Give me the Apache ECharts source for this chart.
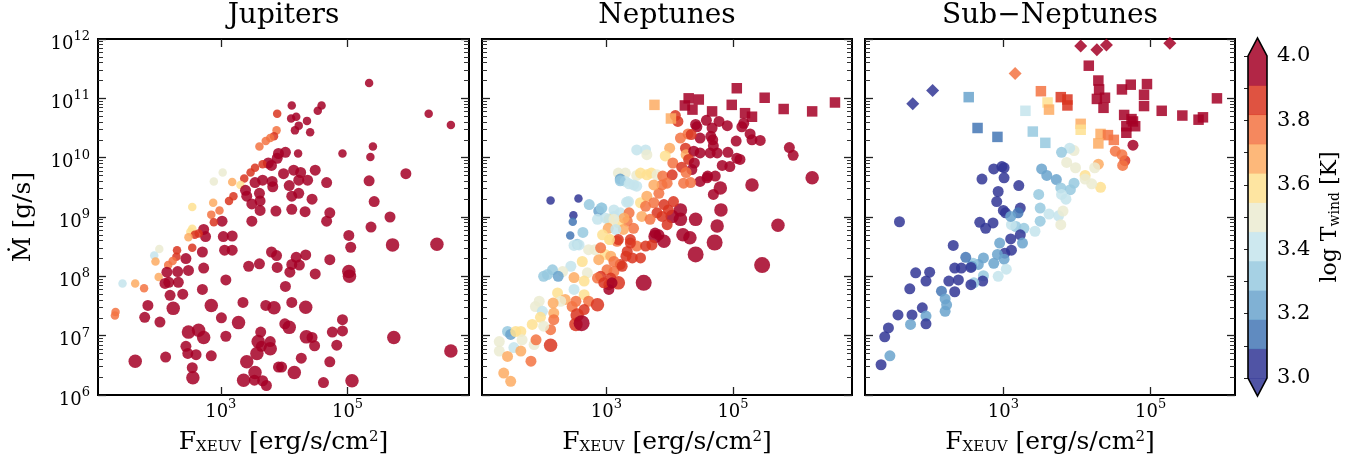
<!DOCTYPE html>
<html><head><meta charset="utf-8">
<script src="https://cdn.jsdelivr.net/npm/echarts@6/dist/echarts.min.js"></script>
<style>html,body{margin:0;padding:0;background:#fff}#c{width:1362px;height:462px}</style>
</head><body><div id="c"></div>
<script>
// ---------- labels / ticks ----------
const panelTitles = ['Jupiters', 'Neptunes', 'Sub\u2212Neptunes'];
const xTickExps = [3, 5];
const yTickExps = [6, 7, 8, 9, 10, 11, 12];
const xRangeLog = [[1.063, 6.916], [1.037, 6.879], [1.122, 6.145]];
const yRangeLog = [6, 12];
const tempMin = 3.0, tempMax = 4.0, tempBins = 11;
const cbTickStep = 0.1;
const palette = ['#313695','#4477b5','#6aa3cd','#96c9df','#c4e4ec','#ebebd1','#fee090','#fdab63','#f37342','#d93520','#a50026'];

// ---------- data: [log F_XEUV, log Mdot, log T_wind, size class] ----------
const jupiters = [
[5.34,11.26,3.95,1],[4.12,10.88,3.95,1],[4.59,10.88,3.95,1],[4.53,10.79,3.95,1],[4.11,10.66,3.95,1],
[4.19,10.69,3.95,1],[4.36,10.62,3.95,1],[4.23,10.54,3.95,1],[4.17,10.46,3.95,1],[4.41,10.43,3.95,1],
[3.89,10.74,3.86,1],[3.88,10.46,3.77,1],[3.84,10.36,3.86,1],[3.78,10.33,3.77,1],[3.71,10.28,3.77,1],
[3.61,10.19,3.77,1],[6.28,10.74,3.95,1],[6.63,10.55,3.95,1],[5.40,10.19,3.95,1],[5.36,10.01,3.95,1],
[4.92,10.07,3.95,1],[4.22,10.07,3.95,1],[4.02,10.09,3.95,2],[3.91,10.07,3.95,2],[3.89,9.99,3.95,2],
[3.75,9.91,3.95,2],[3.66,9.89,3.86,1],[3.80,9.87,3.95,2],[3.54,9.83,3.86,1],[3.47,9.75,3.86,1],
[3.37,9.65,3.86,1],[3.18,9.59,3.68,1],[3.31,9.54,3.59,1],[3.03,9.75,3.50,1],[2.89,9.60,3.50,1],
[4.15,9.79,3.95,2],[3.99,9.73,3.95,2],[4.26,9.75,3.95,2],[4.49,9.79,3.95,2],[3.66,9.62,3.95,2],
[3.54,9.58,3.95,2],[3.81,9.60,3.95,2],[3.82,9.51,3.95,2],[4.08,9.53,3.95,2],[4.23,9.62,3.95,2],
[4.37,9.62,3.95,2],[4.67,9.58,3.95,2],[3.39,9.45,3.95,2],[3.41,9.35,3.95,2],[3.61,9.40,3.95,2],
[3.49,9.22,3.95,2],[3.62,9.27,3.95,2],[4.12,9.35,3.95,2],[4.23,9.40,3.95,2],[4.44,9.30,3.95,2],
[3.20,9.35,3.86,1],[3.13,9.27,3.86,1],[2.98,9.11,3.77,1],[2.88,9.24,3.68,1],[2.85,9.04,3.77,1],
[2.55,9.17,3.59,1],[5.34,9.61,3.95,2],[5.42,9.26,3.95,2],[5.67,9.00,3.95,2],[5.71,8.53,3.95,3],
[5.37,8.83,3.95,2],[4.72,9.07,3.95,2],[4.67,8.93,3.95,2],[4.33,9.09,3.95,2],[4.12,9.13,3.95,2],
[3.62,9.11,3.95,2],[3.87,9.10,3.95,2],[3.49,8.93,3.95,2],[3.02,8.93,3.95,2],[2.89,8.91,3.86,1],
[2.73,8.79,3.95,2],[2.76,8.67,3.95,2],[2.55,8.80,3.59,1],[2.52,8.75,3.59,1],[2.65,8.72,3.86,1],
[2.59,8.70,3.86,1],[2.49,8.66,3.68,1],[3.04,8.67,3.95,2],[3.18,8.68,3.95,2],[5.02,8.69,3.95,2],
[5.05,8.49,3.95,2],[6.41,8.54,3.95,3],[2.55,8.48,3.86,1],[2.71,8.41,3.95,2],[2.45,8.30,3.95,2],
[2.31,8.44,3.86,1],[2.30,8.33,3.86,1],[2.24,8.26,3.77,1],[2.03,8.46,3.50,1],[1.95,8.35,3.41,1],
[1.97,8.25,3.68,1],[2.17,8.19,3.77,1],[2.02,7.99,3.68,1],[2.15,8.07,3.95,2],[2.12,7.88,3.95,2],
[2.32,8.08,3.95,2],[2.49,8.10,3.95,2],[2.20,7.68,3.95,2],[2.40,7.70,3.95,2],[2.25,7.46,3.95,3],
[2.18,7.90,3.95,2],[2.33,7.90,3.95,2],[3.06,8.44,3.95,2],[3.18,8.44,3.95,2],[2.73,8.14,3.95,2],
[2.71,7.78,3.95,2],[3.08,7.94,3.95,2],[3.44,8.17,3.95,2],[3.61,8.21,3.95,2],[3.80,8.41,3.95,2],
[3.88,8.35,3.95,2],[3.89,8.15,3.95,2],[4.02,7.83,3.95,2],[4.12,8.20,3.95,2],[4.09,8.07,3.95,2],
[4.19,8.32,3.95,2],[4.34,8.36,3.95,2],[4.24,8.19,3.95,2],[4.49,8.04,3.95,2],[4.72,8.28,3.95,2],
[5.02,8.08,3.95,3],[5.03,8.00,3.95,3],[1.45,7.88,3.41,1],[1.65,7.88,3.68,1],[1.79,7.80,3.77,1],
[1.34,7.40,3.77,1],[1.33,7.34,3.77,1],[1.85,7.51,3.95,2],[1.80,7.31,3.95,2],[2.04,7.23,3.95,2],
[2.85,7.51,3.95,3],[3.01,7.30,3.95,2],[3.28,7.22,3.95,3],[3.35,7.56,3.95,2],[3.71,7.51,3.95,2],
[3.84,7.47,3.95,3],[4.12,7.56,3.95,2],[4.34,7.48,3.95,3],[2.49,7.06,3.95,3],[2.65,7.09,3.95,3],
[2.73,6.97,3.95,3],[2.45,6.82,3.95,2],[2.48,6.70,3.95,2],[2.61,6.68,3.95,2],[2.85,6.66,3.95,2],
[2.55,6.46,3.95,2],[2.56,6.29,3.95,3],[2.13,6.64,3.95,2],[1.65,6.57,3.95,3],[3.08,6.99,3.95,2],
[3.63,7.06,3.95,2],[3.59,6.90,3.95,3],[3.64,6.82,3.95,2],[3.78,6.78,3.95,3],[3.78,6.90,3.95,2],
[3.57,6.70,3.95,3],[3.41,6.56,3.95,3],[3.54,6.38,3.95,3],[3.53,6.25,3.95,2],[3.36,6.25,3.95,3],
[3.66,6.24,3.95,2],[3.72,6.16,3.95,2],[4.01,7.20,3.95,2],[4.08,7.14,3.95,3],[3.91,6.47,3.95,2],
[3.96,6.47,3.95,2],[4.16,6.38,3.95,3],[4.27,6.62,3.95,2],[4.35,6.98,3.95,3],[4.44,6.97,3.95,2],
[4.48,6.83,3.95,2],[4.62,6.21,3.95,2],[4.76,7.06,3.95,2],[4.92,7.27,3.95,2],[4.92,7.08,3.95,2],
[4.83,6.84,3.95,2],[4.72,6.56,3.95,2],[5.73,6.97,3.95,3],[5.07,6.24,3.95,3],[6.63,6.74,3.95,3],
[1.92,5.97,3.95,2],[2.10,5.98,3.95,2],[5.92,5.97,3.95,2],[5.92,9.73,3.95,2]
];
const neptuneCircles = [
[4.09,10.71,3.86,2],[4.13,10.61,3.86,2],[4.41,10.56,3.95,2],[4.43,10.52,3.95,2],[4.58,10.63,3.95,2],
[4.67,10.50,3.95,2],[4.78,10.61,3.95,2],[4.91,10.54,3.95,2],[5.14,10.52,3.95,2],[5.17,10.58,3.95,2],
[5.27,10.40,3.95,2],[5.30,10.30,3.95,2],[4.65,10.36,3.95,2],[4.68,10.30,3.95,2],[4.64,10.08,3.95,2],
[4.75,10.08,3.95,2],[4.92,10.09,3.95,2],[5.05,10.28,3.95,2],[4.69,10.20,3.95,2],[4.48,10.33,3.95,2],
[4.29,10.40,3.77,2],[4.34,10.39,3.86,2],[4.17,10.33,3.77,2],[4.00,10.16,3.68,2],[3.93,10.03,3.59,2],
[4.25,10.16,3.86,2],[4.26,10.05,3.68,2],[4.38,10.11,3.95,2],[4.48,10.08,3.95,2],[4.30,9.97,3.86,2],
[4.39,9.91,3.95,2],[4.35,9.80,3.95,2],[4.05,9.91,3.77,2],[4.19,9.84,3.86,2],[4.60,9.69,3.95,2],
[4.72,9.69,3.95,2],[4.83,9.87,3.95,2],[4.95,9.85,3.95,2],[5.06,9.99,3.95,2],[5.11,9.97,3.95,2],
[3.48,10.13,3.41,2],[3.62,10.13,3.41,2],[3.64,10.05,3.50,2],[3.19,9.74,3.50,2],[3.30,9.74,3.50,2],
[3.48,9.70,3.50,2],[3.64,9.71,3.59,2],[3.71,9.74,3.59,2],[3.80,9.71,3.50,2],[3.89,9.69,3.77,2],
[4.04,9.71,3.86,2],[3.22,9.64,3.23,2],[5.30,9.54,3.95,3],[4.80,9.49,3.95,3],[4.69,9.38,3.95,2],
[4.48,9.60,3.95,2],[4.59,9.66,3.95,2],[4.81,9.12,3.95,3],[4.75,8.85,3.95,3],[4.71,8.57,3.95,4],
[4.41,8.96,3.95,3],[4.41,8.37,3.95,4],[4.21,8.70,3.95,3],[4.32,8.65,3.95,3],[3.91,8.59,3.95,3],
[3.77,8.67,3.95,3],[3.83,8.70,3.95,2],[4.04,9.01,3.95,3],[4.17,9.12,3.95,3],[4.17,8.96,3.95,3],
[3.96,8.87,3.86,2],[3.59,7.89,3.95,4],[5.46,8.19,3.95,4],[5.71,8.86,3.95,3],[6.25,9.66,3.95,3],
[5.89,10.17,3.95,2],[5.95,10.04,3.95,2],[5.43,10.29,3.95,2],[4.22,9.57,3.77,2],[4.26,9.75,3.77,2],
[3.88,9.54,3.77,2],[3.96,9.57,3.77,2],[3.83,9.40,3.77,2],[3.75,9.54,3.68,2],[3.54,9.74,3.59,2],
[3.30,9.60,3.41,2],[3.43,9.54,3.41,2],[3.48,9.52,3.41,2],[3.35,9.26,3.41,2],[3.54,9.24,3.59,2],
[3.64,9.35,3.68,2],[3.62,9.18,3.77,2],[3.75,9.24,3.77,2],[3.80,9.07,3.86,2],[3.91,9.21,3.86,2],
[3.98,9.12,3.86,2],[4.06,9.26,3.86,2],[3.88,9.01,3.86,2],[3.56,9.01,3.68,2],[3.69,8.96,3.77,2],
[3.43,8.81,3.77,2],[3.33,8.93,3.77,2],[3.19,8.90,3.59,2],[3.12,9.01,3.41,2],[2.93,9.15,3.32,2],
[3.04,8.96,3.59,2],[3.22,9.07,3.41,2],[3.06,8.62,3.59,2],[2.98,8.37,3.59,2],[3.17,8.59,3.77,2],
[3.27,8.79,3.68,2],[3.38,8.62,3.86,2],[3.48,8.51,3.77,2],[3.62,8.51,3.86,2],[3.54,8.31,3.86,2],
[3.72,8.53,3.86,2],[3.77,8.73,3.95,2],[3.33,8.42,3.86,2],[3.41,8.31,3.86,2],[3.22,8.20,3.86,2],
[3.01,8.11,3.77,2],[3.12,8.08,3.77,2],[3.19,7.89,3.86,3],[3.04,7.86,3.86,2],[3.04,7.78,3.95,2],
[2.91,8.00,3.86,2],[2.12,9.28,3.05,1],[2.56,9.31,3.05,1],[2.48,9.03,3.05,1],[2.47,8.92,3.14,1],
[2.43,8.69,3.14,1],[2.54,8.54,3.32,2],[2.63,8.74,3.32,2],[2.73,9.21,3.32,2],[2.88,9.10,3.23,2],
[2.92,9.15,3.32,2],[2.86,8.96,3.41,2],[2.99,8.98,3.41,2],[3.12,9.12,3.41,2],[3.22,9.61,3.32,2],
[3.36,9.56,3.41,2],[3.32,9.25,3.41,2],[3.36,9.07,3.77,2],[3.28,8.98,3.68,2],[3.12,8.96,3.50,2],
[3.03,8.81,3.68,2],[3.15,8.79,3.41,2],[3.19,8.62,3.86,2],[3.05,8.62,3.59,2],[2.94,8.70,3.59,2],
[2.82,8.45,3.50,2],[2.72,8.45,3.50,2],[2.62,8.25,3.59,2],[2.57,8.53,3.41,2],[2.49,8.52,3.41,2],
[2.91,8.48,3.77,2],[3.07,8.34,3.68,2],[3.12,8.25,3.77,2],[3.25,8.17,3.86,2],[3.31,8.34,3.86,2],
[3.38,8.56,3.86,2],[2.88,8.28,3.68,2],[2.70,8.06,3.50,2],[2.44,8.17,3.41,2],[2.31,8.08,3.50,2],
[2.15,8.11,3.32,2],[2.01,8.00,3.32,2],[2.07,8.03,3.32,2],[2.24,8.00,3.23,2],[2.49,7.98,3.68,2],
[2.65,7.92,3.59,2],[2.86,7.97,3.77,2],[2.96,7.89,3.86,2],[3.07,7.97,3.86,2],[3.09,7.89,3.95,2],
[2.23,7.72,3.59,2],[2.35,7.61,3.68,2],[2.49,7.78,3.41,2],[2.65,7.69,3.59,2],[2.72,7.58,3.77,2],
[2.52,7.58,3.77,2],[2.28,7.58,3.50,2],[2.16,7.55,3.68,2],[1.88,7.49,3.50,2],[1.94,7.58,3.50,2],
[1.99,7.41,3.41,2],[1.96,7.31,3.59,2],[2.17,7.38,3.68,2],[2.17,7.27,3.77,2],[2.12,7.10,3.77,2],
[1.83,7.19,3.59,2],[2.01,7.16,3.50,2],[2.46,7.49,3.77,2],[2.54,7.35,3.86,3],[2.65,7.44,3.86,2],
[2.86,7.52,3.86,3],[2.52,7.19,3.86,3],[2.61,7.21,3.95,4],[1.44,7.07,3.32,2],[1.49,7.02,3.23,2],
[1.57,7.07,3.59,2],[1.65,7.07,3.59,2],[1.67,6.93,3.50,2],[1.86,6.85,3.50,2],[1.89,6.93,3.77,2],
[2.12,6.84,3.86,3],[1.54,6.80,3.41,2],[1.31,6.90,3.50,2],[1.31,6.74,3.50,2],[1.44,6.65,3.68,2],
[1.65,6.74,3.68,2],[1.81,6.57,3.77,2],[1.38,6.37,3.68,2],[1.49,6.23,3.68,2],[4.33,9.58,3.77,2]
];
const neptuneSquares = [
[5.06,11.17,3.95],[4.30,11.00,3.95],[4.46,10.98,3.95],[4.24,10.88,3.95],[4.36,10.81,3.95],
[4.67,10.78,3.95],[4.98,10.89,3.95],[5.50,11.01,3.95],[5.80,10.82,3.95],[6.25,10.78,3.95],
[6.61,10.93,3.95],[5.19,10.75,3.95],[5.30,10.69,3.95],[3.76,10.89,3.68],[4.02,10.66,3.68]
];
const subCircles = [
[4.76,10.21,3.95],[4.65,9.95,3.86],[4.62,9.87,3.77],[4.61,10.05,3.77],[4.52,10.11,3.77],
[4.29,9.89,3.68],[4.32,9.50,3.59],[4.11,9.70,3.59],[4.11,9.64,3.50],[4.20,9.56,3.50],
[4.24,9.83,3.50],[3.98,9.83,3.50],[3.86,9.92,3.50],[3.96,10.12,3.50],[3.90,10.16,3.41],
[3.79,10.09,3.32],[3.52,9.81,3.23],[3.59,9.70,3.23],[3.72,9.63,3.23],[3.96,9.57,3.32],
[3.91,9.46,3.32],[3.78,9.49,3.32],[3.79,9.38,3.41],[3.85,9.30,3.41],[3.48,9.38,3.32],
[3.50,9.15,3.32],[3.62,9.05,3.41],[3.75,9.02,3.41],[3.81,9.10,3.50],[3.78,8.87,3.50],
[3.50,8.93,3.32],[3.43,8.76,3.41],[3.28,8.81,3.32],[3.17,8.84,3.32],[3.11,8.87,3.41],
[3.23,8.70,3.05],[3.26,8.56,3.23],[3.10,8.63,3.05],[3.11,8.44,3.05],[3.02,8.39,3.05],
[2.95,8.56,3.23],[2.92,8.37,3.23],[3.01,8.29,3.23],[2.87,8.22,3.23],[2.73,8.31,3.23],
[2.73,8.01,3.32],[3.04,8.12,3.41],[2.93,8.00,3.41],[2.66,8.20,3.23],[2.59,8.22,3.32],
[2.57,8.17,3.23],[2.49,8.32,3.14],[2.56,8.15,3.05],[2.72,7.92,3.05],[2.60,7.89,3.32],
[2.56,7.86,3.05],[2.43,8.14,3.05],[2.34,8.14,3.05],[2.39,7.94,3.05],[2.26,7.92,3.05],
[2.34,7.74,3.05],[2.16,7.75,3.14],[2.21,7.62,3.23],[2.23,7.52,3.23],[2.21,7.41,3.23],
[2.32,8.52,3.05],[1.81,8.06,3.05],[1.95,7.92,3.05],[2.00,8.07,3.05],[1.73,7.79,3.05],
[1.90,7.47,3.05],[1.95,7.33,3.23],[1.95,7.20,3.05],[1.76,7.35,3.05],[1.74,7.19,3.23],
[1.57,7.35,3.05],[1.44,7.13,3.05],[1.39,6.98,3.05],[1.46,6.66,3.23],[1.34,6.51,3.05],
[1.59,8.92,3.05],[2.71,9.64,3.05],[2.87,9.81,3.05],[2.98,9.85,3.05],[3.01,9.83,3.05],
[3.01,9.66,3.05],[3.21,9.53,3.05],[2.93,9.43,3.05],[2.91,9.26,3.05],[3.00,9.11,3.05],
[3.03,9.07,3.05],[3.23,9.15,3.05],[3.20,9.07,3.14],[3.10,9.01,3.23],[2.68,8.91,3.05],
[2.76,8.81,3.05],[2.86,8.90,3.05]
];
const subSquares = [
[4.16,11.55,3.95],[4.29,11.30,3.95],[4.30,11.15,3.95],[4.27,10.99,3.95],[4.38,11.01,3.95],
[4.36,10.84,3.95],[4.61,11.15,3.95],[4.73,11.23,3.95],[4.95,11.24,3.95],[4.91,11.06,3.95],
[4.91,10.87,3.95],[5.15,10.79,3.95],[5.43,10.71,3.95],[5.65,10.64,3.95],[5.71,10.68,3.95],
[5.90,11.00,3.95],[4.64,10.72,3.95],[4.74,10.65,3.95],[4.76,10.61,3.95],[4.79,10.53,3.95],
[4.67,10.53,3.95],[4.67,10.42,3.95],[3.78,11.02,3.86],[3.87,10.98,3.86],[3.87,10.88,3.86],
[3.51,11.12,3.77],[3.60,10.93,3.59],[3.62,10.81,3.68],[3.30,10.79,3.41],[3.40,10.44,3.32],
[3.57,10.25,3.32],[2.53,11.02,3.23],[2.65,10.50,3.14],[2.92,10.35,3.14],[4.05,10.57,3.68],
[4.05,10.47,3.59],[4.32,10.40,3.68],[4.42,10.38,3.77],[4.29,10.24,3.68],[4.50,10.30,3.77]
];
const subDiamonds = [
[4.05,11.88,3.95],[4.27,11.82,3.95],[4.40,11.90,3.95],[5.26,11.93,3.95],[4.70,12.02,3.95],
[3.16,11.42,3.77],[1.77,10.91,3.05],[2.04,11.13,3.05]
];

// ---------- styling ----------
const FONT = 'DejaVu Serif';
const SIZE_PX = {1: 8.5, 2: 11, 3: 13.5, 4: 16};
const OPAC = 0.85;
const grids = [
  {left: 98, top: 39, width: 371, height: 356},
  {left: 482, top: 39, width: 370, height: 356},
  {left: 865, top: 39, width: 370, height: 356}
];
const cbGrid = {left: 1248, top: 56, width: 19, height: 322};
const tempBounds = [];
for (let i = 0; i <= tempBins; i++) tempBounds.push(tempMin + (tempMax - tempMin) * i / tempBins);

const pw = v => Math.pow(10, v);
const toPts = (arr) => arr.map(d => [pw(d[0]), pw(d[1]), d[2], d[3] || 2]);

const supRich = {
  b: {fontFamily: FONT, fontSize: 18, lineHeight: 18, padding: [5, 0, 0, 0], verticalAlign: 'top', color: '#000'},
  s: {fontFamily: FONT, fontSize: 13, lineHeight: 13, verticalAlign: 'top', color: '#000'}
};
const supFmt = v => '{b|10}{s|' + Math.round(Math.log10(v)) + '}';

const yMinor = [];
for (let e = yRangeLog[0]; e < yRangeLog[1]; e++) for (let k = 2; k <= 9; k++) yMinor.push(k * pw(e));
const yMajor = yTickExps.map(pw);
const xMajor = xTickExps.map(pw);

const majorTick = {color: '#222', width: 1.3};
const minorTick = {color: '#333', width: 1};

const xAxes = [], yAxes = [], titles = [];
grids.forEach((g, i) => {
  const xmin = pw(xRangeLog[i][0]), xmax = pw(xRangeLog[i][1]);
  const common = {gridIndex: i, type: 'log', min: xmin, max: xmax, splitLine: {show: false},
    axisLine: {show: false, onZero: false}};
  xAxes.push(Object.assign({}, common, {position: 'bottom',
    axisTick: {inside: true, length: 8, lineStyle: majorTick, customValues: xMajor},
    axisLabel: {customValues: xMajor, formatter: supFmt, rich: supRich, margin: 3},
    name: '{n|F}{sub|XEUV}{n| [erg/s/cm}{sup|2}{n|]}', nameLocation: 'middle', nameGap: 35,
    nameTextStyle: {rich: {
      n: {fontFamily: FONT, fontSize: 25, lineHeight: 25, verticalAlign: 'top', color: '#000'},
      sub: {fontFamily: FONT, fontSize: 15, lineHeight: 15, padding: [10, 0, 0, 0], verticalAlign: 'top', color: '#000'},
      sup: {fontFamily: FONT, fontSize: 15, lineHeight: 15, verticalAlign: 'top', color: '#000'}
    }}
  }));
  xAxes.push(Object.assign({}, common, {position: 'top',
    axisTick: {inside: true, length: 8, lineStyle: majorTick, customValues: xMajor},
    axisLabel: {show: false}
  }));
  const yc = {gridIndex: i, type: 'log', min: pw(yRangeLog[0]), max: pw(yRangeLog[1]),
    splitLine: {show: false}, axisLine: {show: false, onZero: false}};
  yAxes.push(Object.assign({}, yc, {position: 'left',
    axisTick: {inside: true, length: 8, lineStyle: majorTick, customValues: yMajor},
    axisLabel: i === 0 ? {customValues: yMajor, formatter: supFmt, rich: supRich, margin: 8} : {show: false},
    name: i === 0 ? 'Ṁ [g/s]' : '', nameLocation: 'middle', nameRotate: 90, nameGap: 62,
    nameTextStyle: {fontFamily: FONT, fontSize: 25, color: '#000'}
  }));
  yAxes.push(Object.assign({}, yc, {position: 'left',
    axisTick: {inside: true, length: 5, lineStyle: minorTick, customValues: yMinor},
    axisLabel: {show: false}
  }));
  yAxes.push(Object.assign({}, yc, {position: 'right',
    axisTick: {inside: true, length: 8, lineStyle: majorTick, customValues: yMajor},
    axisLabel: {show: false}
  }));
  yAxes.push(Object.assign({}, yc, {position: 'right',
    axisTick: {inside: true, length: 5, lineStyle: minorTick, customValues: yMinor},
    axisLabel: {show: false}
  }));
  titles.push({text: panelTitles[i], left: g.left + g.width / 2, top: 2, padding: 0, textAlign: 'center',
    textStyle: {fontFamily: FONT, fontSize: 28, fontWeight: 'normal', color: '#000'}});
});
// colorbar axes
xAxes.push({gridIndex: 3, type: 'value', min: 0, max: 1, show: false});
yAxes.push({gridIndex: 3, type: 'value', min: tempMin, max: tempMax, interval: cbTickStep, position: 'right',
  splitLine: {show: false}, axisLine: {show: false},
  axisTick: {inside: true, length: 4, lineStyle: {color: '#222', width: 1}},
  axisLabel: {margin: 10, fontFamily: FONT, fontSize: 21, color: '#000',
    formatter: v => (Math.round(v * 10) % 2 === 0 ? v.toFixed(1) : '')},
  name: '{n|log T}{sub|wind}{n| [K]}', nameLocation: 'middle', nameRotate: 90, nameGap: 52,
  nameTextStyle: {rich: {
    n: {fontFamily: FONT, fontSize: 22, lineHeight: 22, verticalAlign: 'top', color: '#000'},
    sub: {fontFamily: FONT, fontSize: 14, lineHeight: 14, padding: [9, 0, 0, 0], verticalAlign: 'top', color: '#000'}
  }}
});

const pieces = [];
for (let i = 0; i < tempBins; i++) {
  const p = {color: palette[i]};
  if (i > 0) p.gte = tempBounds[i];
  if (i < tempBins - 1) p.lt = tempBounds[i + 1];
  pieces.push(p);
}

const sc = (name, arr, gi, symbol, sizeFn) => ({
  name, type: 'scatter', xAxisIndex: gi * 2, yAxisIndex: gi * 4, data: toPts(arr),
  symbol, symbolSize: sizeFn, itemStyle: {opacity: OPAC}, clip: true, silent: true
});
const circleSize = v => SIZE_PX[v[3]];

const cbBands = [];
for (let i = 0; i < tempBins; i++) cbBands.push([tempBounds[i], tempBounds[i + 1], i]);
const extFrac = 0.056;

const series = [
  sc('Jupiters', jupiters, 0, 'circle', circleSize),
  sc('Neptunes', neptuneCircles, 1, 'circle', circleSize),
  sc('Neptunes sq', neptuneSquares, 1, 'rect', 10.5),
  sc('Sub-Neptunes', subCircles, 2, 'circle', circleSize),
  sc('Sub-Neptunes sq', subSquares, 2, 'rect', 10.5),
  sc('Sub-Neptunes dia', subDiamonds, 2, 'diamond', 13),
  {type: 'custom', xAxisIndex: 6, yAxisIndex: 12, silent: true, data: cbBands,
    renderItem: (params, api) => {
      const p0 = api.coord([0, api.value(0)]), p1 = api.coord([1, api.value(1)]);
      return {type: 'rect', shape: {x: p0[0], y: p1[1], width: p1[0] - p0[0], height: p0[1] - p1[1] + 0.5},
        style: {fill: palette[api.value(2)], opacity: OPAC}};
    }},
  {type: 'custom', xAxisIndex: 6, yAxisIndex: 12, silent: true, clip: false,
    data: [[tempMax, tempMax + (tempMax - tempMin) * extFrac, tempBins - 1], [tempMin, tempMin - (tempMax - tempMin) * extFrac, 0]],
    renderItem: (params, api) => {
      const base = api.value(0), tip = api.value(1);
      const pts = [api.coord([0, base]), api.coord([1, base]), api.coord([0.5, tip])];
      return {type: 'polygon', shape: {points: pts}, style: {fill: palette[api.value(2)], opacity: OPAC}};
    }},
  {type: 'custom', xAxisIndex: 6, yAxisIndex: 12, silent: true, clip: false, data: [[0]],
    renderItem: (params, api) => {
      const e = (tempMax - tempMin) * extFrac;
      const pts = [[0, tempMax], [0.5, tempMax + e], [1, tempMax], [1, tempMin], [0.5, tempMin - e], [0, tempMin]].map(p => api.coord(p));
      return {type: 'polygon', shape: {points: pts}, style: {fill: 'none', stroke: '#000', lineWidth: 1.6}};
    }}
];

const chart = echarts.init(document.getElementById('c'), null, {renderer: 'canvas'});
chart.setOption({
  animation: false,
  backgroundColor: '#fff',
  title: titles,
  grid: grids.map(g => Object.assign({show: true, borderColor: '#000', borderWidth: 2, backgroundColor: 'transparent'}, g))
    .concat([Object.assign({show: false}, cbGrid)]),
  xAxis: xAxes,
  yAxis: yAxes,
  visualMap: {type: 'piecewise', show: false, dimension: 2, seriesIndex: [0, 1, 2, 3, 4, 5], pieces: pieces},
  series: series
});
</script></body></html>
